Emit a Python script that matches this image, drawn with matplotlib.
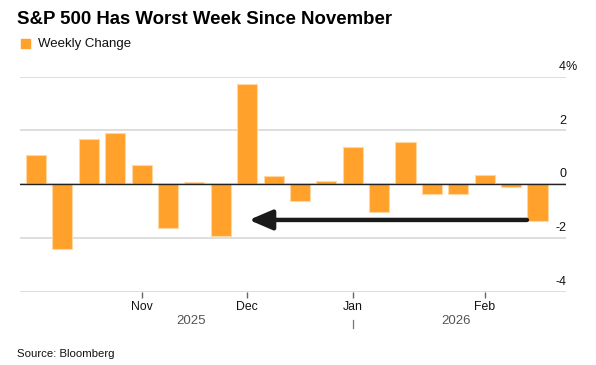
import numpy as np
import matplotlib
matplotlib.use("Agg")
import matplotlib.pyplot as plt
from matplotlib import transforms

plt.rcParams['font.family'] = ['Liberation Sans', 'DejaVu Sans']

# weekly % change of the S&P 500, week ending Oct 3 2025 .. Feb 2026
weekly_change = [1.07, -2.42, 1.69, 1.90, 0.70, -1.63, 0.08, -1.94, 3.71, 0.31,
                 -0.63, 0.11, 1.38, -1.03, 1.57, -0.38, -0.36, 0.33, -0.09, -1.38]
month_ticks = [4, 8, 12, 17]
month_labels = ['Nov', 'Dec', 'Jan', 'Feb']
y_ticks = [4, 2, 0, -2, -4]

W, H = 596, 365
fig = plt.figure(figsize=(W / 100, H / 100), dpi=100)
ax = fig.add_axes([20 / W, 1 - 291.7 / H, 546 / W, 215 / H])

x = np.arange(len(weekly_change))
ax.bar(x, weekly_change, width=0.76, color='#ffa12b', edgecolor='#ffd7a3',
       linewidth=0.8, zorder=3)

ax.set_xlim(-0.606, 20.08)
ax.set_ylim(-4, 4)

# gridlines and zero line
for v in y_ticks:
    ax.axhline(v, color='#dedede', lw=1.4, zorder=1)
ax.axhline(0, color='#222222', lw=1.0, zorder=4)

for s in ax.spines.values():
    s.set_visible(False)
ax.set_yticks([])
ax.set_xticks(month_ticks)
ax.set_xticklabels(month_labels, fontsize=8.8, color='#111111')
ax.tick_params(axis='x', length=4, width=1, color='#666666', pad=3)

# y labels on the right, above the gridlines
for v in y_ticks:
    ax.annotate(str(v), xy=(1.0, v), xycoords=('axes fraction', 'data'),
                xytext=(0, 7), textcoords='offset points', ha='right',
                va='center', fontsize=9, color='#111111')
ax.annotate('%', xy=(1.0, 4), xycoords=('axes fraction', 'data'),
            xytext=(0, 7), textcoords='offset points', ha='left',
            va='center', fontsize=9, color='#111111')

# year labels under months
trans = transforms.blended_transform_factory(ax.transData, fig.transFigure)
ax.text(5.87, 1 - 320.7 / H, '2025', transform=trans, ha='center', va='center',
        fontsize=9.5, color='#555555')
ax.text(15.9, 1 - 320.7 / H, '2026', transform=trans, ha='center', va='center',
        fontsize=9.5, color='#555555')
ax.plot([12, 12], [1 - 320 / H, 1 - 328 / H], transform=trans, color='#777777',
        lw=0.9, clip_on=False)

# arrow
ax.annotate('', xy=(8.07, -1.33), xytext=(18.6, -1.33),
            arrowprops=dict(arrowstyle='-|>,head_length=1.4,head_width=0.6',
                            color='#1a1a1a', lw=3.2, shrinkA=0, shrinkB=0),
            zorder=5)

# title, legend, source
fig.text(17 / W, 1 - 20 / H, 'S&P 500 Has Worst Week Since November',
         fontsize=13.4, fontweight='bold', va='center', ha='left', color='#000000')
fig.patches.append(plt.Rectangle((21 / W, 1 - 48 / H), 9 / W, 9 / H,
                                 transform=fig.transFigure, color='#ffa12b'))
fig.text(38 / W, 1 - 43.5 / H, 'Weekly Change', fontsize=9.5, va='center',
         ha='left', color='#111111')
fig.text(17 / W, 1 - 354 / H, 'Source: Bloomberg', fontsize=8.2, va='center',
         ha='left', color='#111111')

fig.savefig('out.png', dpi=100)
